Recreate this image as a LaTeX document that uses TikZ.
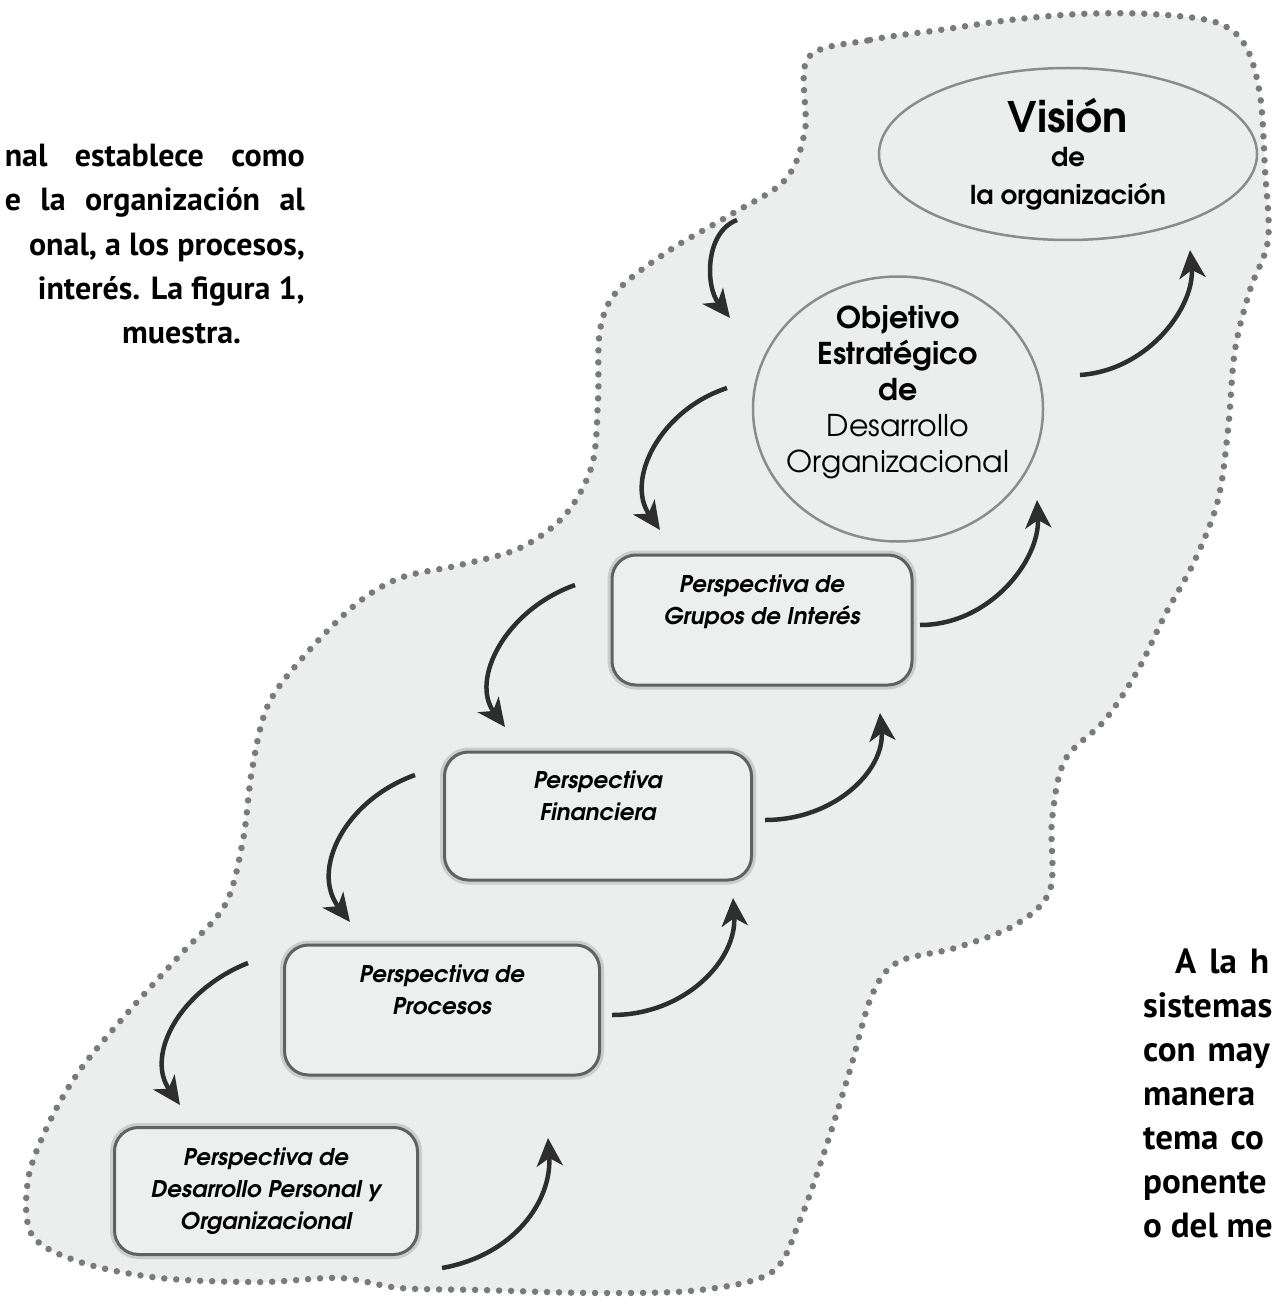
\documentclass[tikz,border=0pt]{standalone}
\usepackage{fontspec}
\setmainfont{PT Sans}
\newfontfamily\gothic{TeX Gyre Adventor}
\usetikzlibrary{arrows.meta,calc,shapes.geometric}
\definecolor{blobfill}{HTML}{ECEEEE}
\definecolor{dotc}{HTML}{7A7A7A}
\definecolor{arrc}{HTML}{2E2E2E}
\definecolor{boxfill}{HTML}{EDEFEF}
\begin{document}
\begin{tikzpicture}[x=1pt,y=-1pt,
  arr/.style={draw=arrc, line width=4.5pt, -{Stealth[length=28pt,width=26pt,inset=8pt]}},
  pbox/.style={draw=black!62, line width=3pt, preaction={draw=black!20, line width=9pt},
     fill=boxfill, rounded corners=24pt, align=center, inner sep=0pt,
     font=\gothic\bfseries\itshape\fontsize{23}{32}\selectfont},
  oval/.style={ellipse, draw=black!45, line width=2.5pt, fill=blobfill, align=center, inner sep=-70pt},
  paraL/.style={font=\bfseries\fontsize{32}{44}\selectfont, inner sep=0pt},
  paraR/.style={font=\bfseries\fontsize{35}{44}\selectfont, inner sep=0pt}
]
\clip (0,0) rectangle (1273,1300);
\fill[white] (0,0) rectangle (1273,1300);

% dotted blob
\draw[fill=blobfill, draw=dotc, line width=6.5pt, line cap=round, dash pattern=on 0pt off 12pt]
  plot[smooth cycle, tension=0.55] coordinates {
  (808,58) (870,40) (940,30) (1010,20) (1080,14) (1150,14) (1215,22) (1245,45) (1260,95)
  (1265,170) (1268,240) (1250,290) (1235,350) (1228,430) (1218,500) (1195,560) (1165,615)
  (1138,670) (1105,720) (1065,760) (1052,820) (1050,890) (1015,925) (955,948) (898,962)
  (872,995) (850,1070) (825,1150) (800,1220) (772,1272) (700,1290) (600,1293) (480,1290)
  (400,1288) (340,1278) (260,1282) (160,1278) (80,1262) (32,1235) (28,1180) (48,1125)
  (80,1070) (130,1010) (180,955) (225,905) (243,840) (252,770) (268,705) (305,655)
  (355,605) (400,578) (460,565) (520,548) (565,515) (592,465) (598,400) (600,330)
  (618,290) (670,250) (730,215) (785,180) (805,130)};

% nodes
\node[oval, minimum width=378pt, minimum height=172pt,
  font=\gothic\bfseries\fontsize{26}{38}\selectfont] (vision) at (1068,154)
  {{\fontsize{42}{42}\selectfont Visión}\\[-4pt] de\\ la organización};
\node[oval, minimum width=290pt, minimum height=265pt,
  font=\gothic\bfseries\fontsize{30}{36}\selectfont] (obj) at (898,409)
  {Objetivo\\ Estratégico\\ de\\ {\mdseries Desarrollo}\\ {\mdseries Organizacional}\\[4pt]\mbox{}};
\node[pbox, minimum width=300pt, minimum height=130pt] (grupos) at (762,620)
  {Perspectiva de\\ Grupos de Interés\\ \strut};
\node[pbox, minimum width=307pt, minimum height=128pt] (finan) at (598,816)
  {Perspectiva\\ Financiera\\ \strut};
\node[pbox, minimum width=315pt, minimum height=130pt] (proc) at (442,1010)
  {Perspectiva de\\ Procesos\\ \strut};
\node[pbox, minimum width=303pt, minimum height=127pt] (desa) at (266,1191)
  {Perspectiva de\\ Desarrollo Personal y\\ Organizacional};

% down arrows (left side)
\draw[arr] ($(vision)+(-331,66)$) .. controls +(-32,12) and +(-25,-32) .. ($(obj)+(-168,-91)$);
\draw[arr] ($(obj)+(-171,-21)$) .. controls +(-67,22) and +(-35,-50) .. ($(grupos)+(-102,-90)$);
\draw[arr] ($(grupos)+(-187,-35)$) .. controls +(-70,25) and +(-35,-47) .. ($(finan)+(-93,-89)$);
\draw[arr] ($(finan)+(-183,-41)$) .. controls +(-70,25) and +(-40,-52) .. ($(proc)+(-92,-88)$);
\draw[arr] ($(proc)+(-194,-47)$) .. controls +(-68,27) and +(-35,-50) .. ($(desa)+(-86,-86)$);

% up arrows (right side)
\draw[arr] ($(obj)+(182,-34)$) .. controls +(70,-5) and +(5,55) .. ($(vision)+(122,96)$);
\draw[arr] ($(grupos)+(158,5)$) .. controls +(70,0) and +(3,60) .. ($(obj)+(139,91)$);
\draw[arr] ($(finan)+(167,4)$) .. controls +(70,0) and +(5,57) .. ($(grupos)+(118,93)$);
\draw[arr] ($(proc)+(170,5)$) .. controls +(73,0) and +(4,62) .. ($(finan)+(135,82)$);
\draw[arr] ($(desa)+(176,77)$) .. controls +(73,-13) and +(4,62) .. ($(proc)+(106,128)$);

% surrounding paragraph text (cut off by the page)
\node[paraL, anchor=base east] (p1) at (305,167) {\makebox[300pt][s]{nal establece como}};
\node[paraL, anchor=base east] (p2) at (305,211) {\makebox[300pt][s]{e la organización al}};
\node[paraL, anchor=base east] (p3) at (305,255) {onal, a los procesos,};
\node[paraL, anchor=base east] (p4) at (305,299) {interés. La figura 1,};
\node[paraL, anchor=base west] (p5) at (122,343) {muestra.};

\node[paraR, anchor=base west] (q1) at (1175,973) {\makebox[94pt][s]{A la h}};
\node[paraR, anchor=base west] (q2) at (1143,1017) {sistemas};
\node[paraR, anchor=base west] (q3) at (1143,1061) {con\hspace{12pt}may};
\node[paraR, anchor=base west] (q4) at (1143,1105) {manera};
\node[paraR, anchor=base west] (q5) at (1143,1149) {tema\hspace{12pt}co};
\node[paraR, anchor=base west] (q6) at (1143,1193) {ponente};
\node[paraR, anchor=base west] (q7) at (1143,1237) {o del me};
\end{tikzpicture}
\end{document}
